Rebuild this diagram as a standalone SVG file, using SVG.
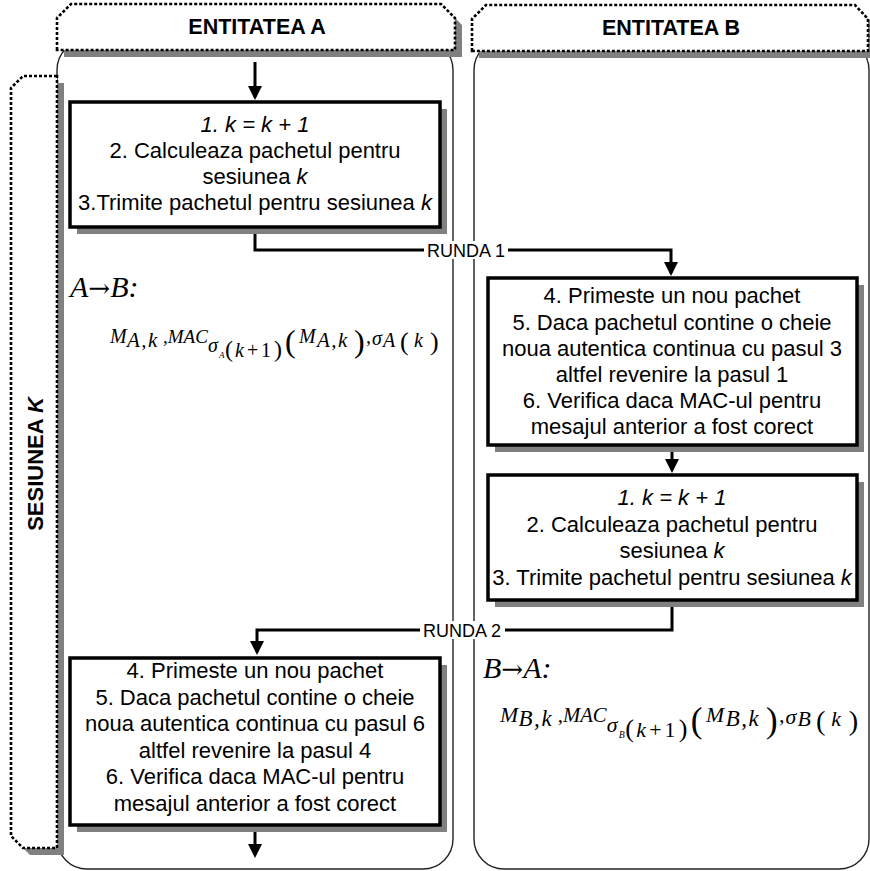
<svg xmlns="http://www.w3.org/2000/svg" width="870" height="871" viewBox="0 0 870 871">
  <style>
    .lane { fill: none; stroke: #222; stroke-width: 1.4; }
    .dash { fill: #fff; stroke: #000; stroke-width: 2.6; stroke-dasharray: 3 2; }
    .shadow { fill: #808080; }
    .box { fill: #fff; stroke: #000; stroke-width: 3.5; }
    .t { font-family: "Liberation Sans", Arial, sans-serif; font-size: 22px; text-anchor: middle; fill: #000; }
    .h { font-weight: bold; font-size: 21.5px; }
    .lbl { font-size: 18px; }
    .conn { fill: none; stroke: #000; stroke-width: 3; }
    .m { font-family: "Liberation Serif", "Times New Roman", serif; font-style: italic; fill: #000; }
    .up { font-style: normal; }
    .arr { font-family: "DejaVu Serif", serif; font-style: normal; }
  </style>
  <defs>
    <marker id="arrow" viewBox="0 0 14 14" refX="11" refY="7" markerWidth="14" markerHeight="14" markerUnits="userSpaceOnUse" orient="auto">
      <path d="M0,0 L14,7 L0,14 Z" fill="#000"/>
    </marker>
  </defs>

  <!-- swimlanes -->
  <g id="lane-a">
    <rect class="lane" x="57" y="40" width="396" height="829" rx="30"/>
    <path class="shadow" d="M64,57 V25 L78,11 H448 L462,25 V57 Z"/>
    <path class="dash" d="M57,50 V18 L71,4 H441 L455,18 V50 Z"/>
    <text class="t h" x="257" y="34">ENTITATEA A</text>
  </g>
  <g id="lane-b">
    <rect class="lane" x="474" y="40" width="395" height="829" rx="30"/>
    <path class="shadow" d="M479,58 V26 L493,12 H862 L875,26 V58 Z"/>
    <path class="dash" d="M472,51 V19 L486,5 H855 L868,19 V51 Z"/>
    <text class="t h" x="671" y="35">ENTITATEA B</text>
  </g>

  <!-- session band -->
  <g id="session-k">
    <path class="shadow" d="M64,83 H30 L18,95 V843 L30,855 H64 Z"/>
    <path class="dash" d="M57,76 H23 L11,88 V836 L23,848 H57 Z"/>
    <text class="t h" transform="translate(43,464) rotate(-90)" style="font-size:22px">SESIUNEA <tspan font-style="italic">K</tspan></text>
  </g>

  <!-- connectors -->
  <g id="connectors">
    <path class="conn" d="M255,62 V97" marker-end="url(#arrow)"/>
    <path class="conn" d="M255,229 V250 H671 V273" marker-end="url(#arrow)"/>
    <path class="conn" d="M672,446 V470" marker-end="url(#arrow)"/>
    <path class="conn" d="M672,601 V630 H257 V652" marker-end="url(#arrow)"/>
    <path class="conn" d="M255,832 V855" marker-end="url(#arrow)"/>
    <rect x="424" y="241" width="84" height="18" fill="#fff"/>
    <text class="t lbl" x="466" y="257">RUNDA 1</text>
    <rect x="420" y="621" width="85" height="18" fill="#fff"/>
    <text class="t lbl" x="462" y="637">RUNDA 2</text>
  </g>

  <!-- entity A, send step -->
  <g id="a-send">
    <rect class="shadow" x="77" y="109" width="370" height="125"/>
    <rect class="box" x="70" y="102" width="370" height="125"/>
    <text class="t" x="255" y="132" font-style="italic">1. k = k + 1</text>
    <text class="t" x="255" y="158">2. Calculeaza pachetul pentru</text>
    <text class="t" x="255" y="184">sesiunea <tspan font-style="italic">k</tspan></text>
    <text class="t" x="255" y="210">3.Trimite pachetul pentru sesiunea <tspan font-style="italic">k</tspan></text>
  </g>

  <!-- entity B, receive step -->
  <g id="b-receive">
    <rect class="shadow" x="495" y="285" width="369" height="167"/>
    <rect class="box" x="488" y="278" width="369" height="167"/>
    <text class="t" x="672" y="303">4. Primeste un nou pachet</text>
    <text class="t" x="672" y="330">5. Daca pachetul contine o cheie</text>
    <text class="t" x="672" y="356">noua autentica continua cu pasul 3</text>
    <text class="t" x="672" y="382">altfel revenire la pasul 1</text>
    <text class="t" x="672" y="408">6. Verifica daca MAC-ul pentru</text>
    <text class="t" x="672" y="434">mesajul anterior a fost corect</text>
  </g>

  <!-- entity B, send step -->
  <g id="b-send">
    <rect class="shadow" x="495" y="482" width="369" height="125"/>
    <rect class="box" x="488" y="475" width="369" height="125"/>
    <text class="t" x="672" y="505" font-style="italic">1. k = k + 1</text>
    <text class="t" x="672" y="532">2. Calculeaza pachetul pentru</text>
    <text class="t" x="672" y="558">sesiunea <tspan font-style="italic">k</tspan></text>
    <text class="t" x="672" y="585">3. Trimite pachetul pentru sesiunea <tspan font-style="italic">k</tspan></text>
  </g>

  <!-- entity A, receive step -->
  <g id="a-receive">
    <rect class="shadow" x="77" y="665" width="370" height="167"/>
    <rect class="box" x="70" y="658" width="370" height="167"/>
    <text class="t" x="255" y="678">4. Primeste un nou pachet</text>
    <text class="t" x="255" y="705">5. Daca pachetul contine o cheie</text>
    <text class="t" x="255" y="731">noua autentica continua cu pasul 6</text>
    <text class="t" x="255" y="758">altfel revenire la pasul 4</text>
    <text class="t" x="255" y="784">6. Verifica daca MAC-ul pentru</text>
    <text class="t" x="255" y="811">mesajul anterior a fost corect</text>
  </g>

  <!-- message A to B -->
  <g id="msg-a-b">
    <text class="m" x="70" y="297" font-size="30">A<tspan class="arr" font-size="26">→</tspan>B:</text>
    <g transform="translate(110,343)" font-size="20">
      <text class="m" x="0" y="0">M</text>
      <text class="m" x="17" y="4" font-size="21" letter-spacing="1.5">A,k</text>
      <text class="m" x="53" y="0" font-size="19">,MAC</text>
      <text class="m" x="98" y="9">σ</text>
      <text class="m" x="109" y="15" font-size="9">A</text>
      <text class="m up" x="115" y="14" font-size="24">(</text>
      <text class="m" x="125" y="14">k</text>
      <text class="m up" x="137" y="14">+</text>
      <text class="m up" x="151" y="14">1</text>
      <text class="m up" x="164" y="14" font-size="24">)</text>
      <text class="m up" x="175" y="9" font-size="32">(</text>
      <text class="m" x="189" y="0">M</text>
      <text class="m" x="207" y="4" font-size="21" letter-spacing="1.5">A,k</text>
      <text class="m up" x="244" y="9" font-size="32">)</text>
      <text class="m" x="256" y="0">,</text>
      <text class="m" x="262" y="2">σ</text>
      <text class="m" x="273" y="4">A</text>
      <text class="m up" x="290" y="7" font-size="26">(</text>
      <text class="m" x="304" y="4">k</text>
      <text class="m up" x="320" y="7" font-size="26">)</text>
    </g>
  </g>

  <!-- message B to A -->
  <g id="msg-b-a">
    <text class="m" x="483" y="678" font-size="30">B<tspan class="arr" font-size="26">→</tspan>A:</text>
    <g transform="translate(500,722) scale(1.09)" font-size="20">
      <text class="m" x="0" y="0">M</text>
      <text class="m" x="17" y="4" font-size="21" letter-spacing="1.5">B,k</text>
      <text class="m" x="53" y="0" font-size="19">,MAC</text>
      <text class="m" x="98" y="9">σ</text>
      <text class="m" x="109" y="15" font-size="9">B</text>
      <text class="m up" x="115" y="14" font-size="24">(</text>
      <text class="m" x="125" y="14">k</text>
      <text class="m up" x="137" y="14">+</text>
      <text class="m up" x="151" y="14">1</text>
      <text class="m up" x="164" y="14" font-size="24">)</text>
      <text class="m up" x="175" y="9" font-size="32">(</text>
      <text class="m" x="189" y="0">M</text>
      <text class="m" x="207" y="4" font-size="21" letter-spacing="1.5">B,k</text>
      <text class="m up" x="244" y="9" font-size="32">)</text>
      <text class="m" x="256" y="0">,</text>
      <text class="m" x="262" y="2">σ</text>
      <text class="m" x="273" y="4">B</text>
      <text class="m up" x="290" y="7" font-size="26">(</text>
      <text class="m" x="304" y="4">k</text>
      <text class="m up" x="320" y="7" font-size="26">)</text>
    </g>
  </g>
</svg>
